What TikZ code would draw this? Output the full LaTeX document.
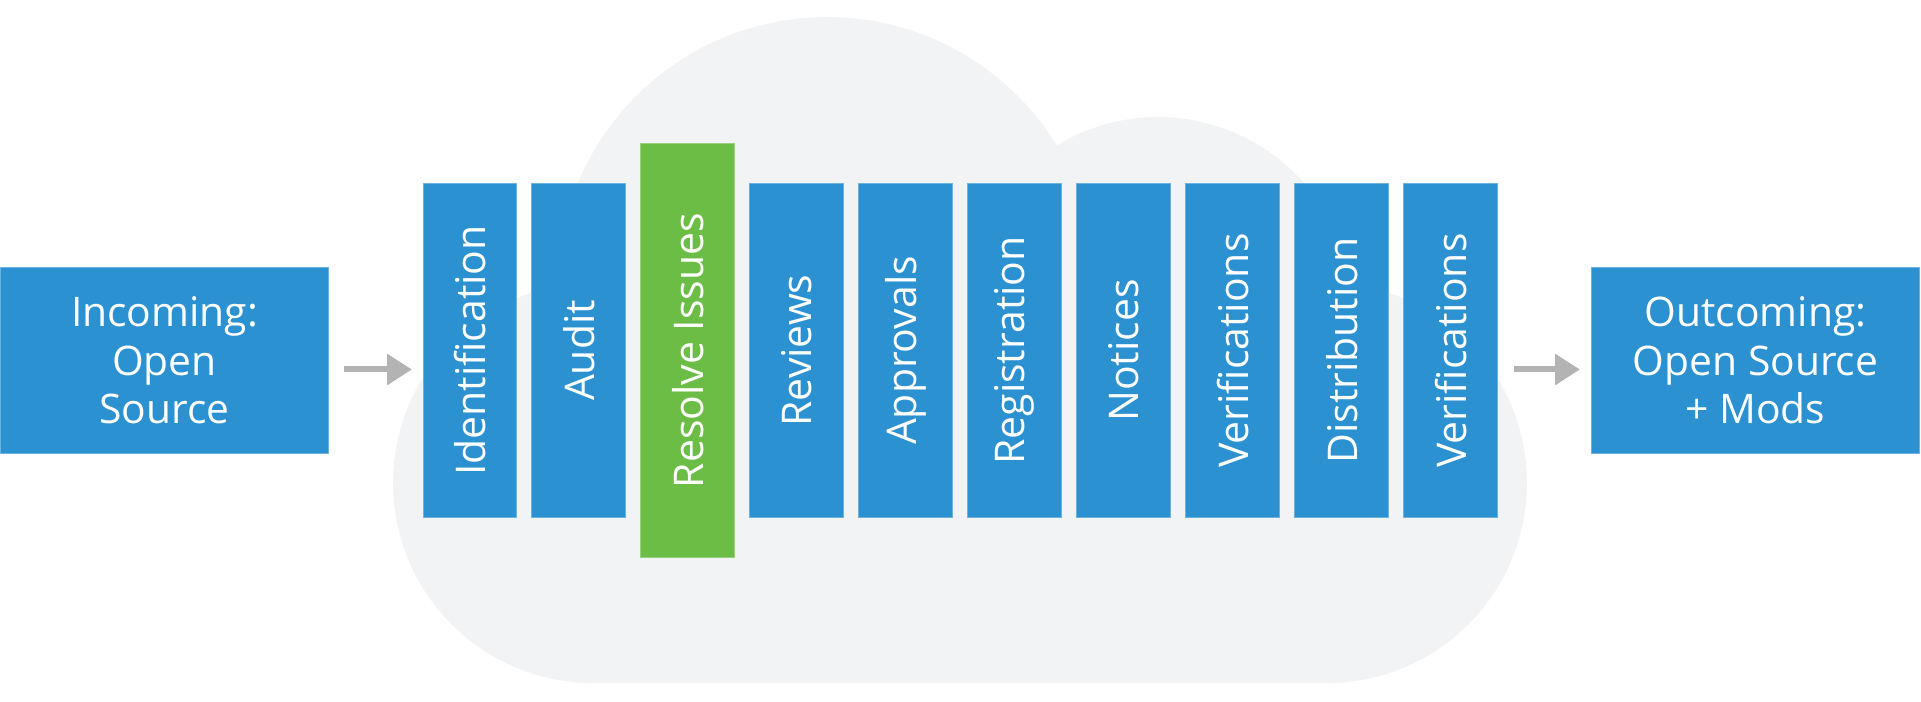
\documentclass[tikz,border=0pt]{standalone}
\usepackage{fontspec}
\setmainfont{Open Sans}
\usepackage{tikz}
\usetikzlibrary{arrows.meta,positioning}

\definecolor{stepblue}{RGB}{43,145,208}
\definecolor{stepgreen}{RGB}{108,189,69}
\definecolor{cloudgray}{RGB}{242,243,245}
\definecolor{arrowgray}{RGB}{179,179,179}

\begin{document}
\begin{tikzpicture}[
  x=0.02cm, y=-0.02cm,
  node distance=0.3cm,
  io/.style={fill=stepblue, draw=stepblue!70!white, line width=0.02cm, outer sep=0pt, text=white, minimum width=6.58cm, minimum height=3.74cm, inner sep=0pt, align=center, font=\fontsize{23.2}{27.6}\selectfont},
  stage/.style={fill=stepblue, draw=stepblue!70!white, line width=0.02cm, outer sep=0pt, text=white, minimum width=1.88cm, minimum height=6.7cm, inner sep=0pt, font=\fontsize{23.3}{28}\selectfont},
  flow/.style={-{Triangle[length=0.5cm, width=0.6cm]}, line width=0.12cm, draw=arrowgray}
]
  \useasboundingbox (0,0) rectangle (1921,701);

  % cloud behind the stages
  \fill[cloudgray] (827,287) circle[radius=5.4cm]
                   (1158,312) circle[radius=3.9cm]
                   (593,483) circle[radius=4cm]
                   (1327,483) circle[radius=4cm]
                   (593,312) rectangle (1327,683);

  \node[io, anchor=north west] (incoming) at (0,267) {Incoming:\\Open\\Source};

  \node[stage, anchor=north west] (ident) at (423,183) {\rotatebox{90}{Identification}};
  \node[stage, right=of ident] (audit) {\rotatebox{90}{Audit}};
  \node[stage, fill=stepgreen, draw=stepgreen!70!white, minimum height=8.28cm, right=of audit] (resolve) {\rotatebox{90}{Resolve Issues}};
  \node[stage, right=of resolve] (reviews) {\rotatebox{90}{Reviews}};
  \node[stage, right=of reviews] (approvals) {\rotatebox{90}{Approvals}};
  \node[stage, right=of approvals] (registration) {\rotatebox{90}{Registration}};
  \node[stage, right=of registration] (notices) {\rotatebox{90}{Notices}};
  \node[stage, right=of notices] (verif1) {\rotatebox{90}{Verifications}};
  \node[stage, right=of verif1] (distrib) {\rotatebox{90}{Distribution}};
  \node[stage, right=of distrib] (verif2) {\rotatebox{90}{Verifications}};

  \node[io, anchor=north west] (outgoing) at (1591,267) {Outcoming:\\Open Source\\+ Mods};

  \draw[flow, shorten <=0.3cm, shorten >=0.22cm] ([yshift=-0.18cm]incoming.east) -- ([yshift=-0.18cm]incoming.east -| ident.west);
  \draw[flow, shorten <=0.32cm, shorten >=0.22cm] ([yshift=-0.18cm]outgoing.west -| verif2.east) -- ([yshift=-0.18cm]outgoing.west);
\end{tikzpicture}
\end{document}
